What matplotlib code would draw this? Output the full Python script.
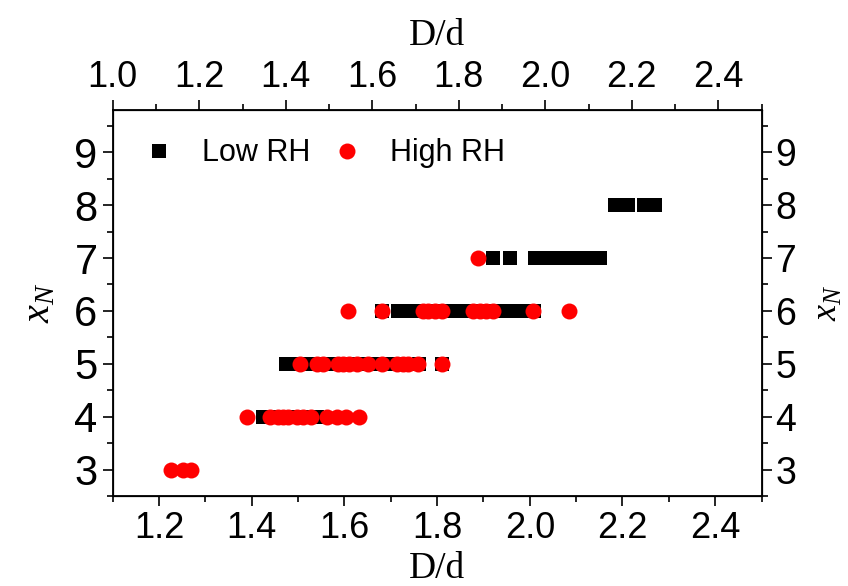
import matplotlib.pyplot as plt
from matplotlib.ticker import MultipleLocator

plt.rcParams['font.family'] = ['Liberation Sans', 'DejaVu Sans']
plt.rcParams['mathtext.fontset'] = 'custom'
plt.rcParams['mathtext.it'] = 'Liberation Serif:italic'
plt.rcParams['mathtext.rm'] = 'Liberation Serif'

# Low RH (black squares)
low_x = [1.425, 1.44, 1.46, 1.48, 1.50, 1.52, 1.54,
         1.473, 1.49, 1.51, 1.53, 1.55, 1.57, 1.59, 1.61, 1.63, 1.65, 1.67, 1.70, 1.72, 1.76, 1.81,
         1.68, 1.715, 1.74, 1.76, 1.78, 1.80, 1.82, 1.84, 1.86, 1.88, 1.90, 1.92, 1.94, 1.96, 1.98, 2.00, 2.01,
         1.921, 1.957, 2.011, 2.03, 2.05, 2.07, 2.09, 2.11, 2.13, 2.151,
         2.183, 2.212, 2.246, 2.270]
low_y = [4] * 7 + [5] * 15 + [6] * 17 + [7] * 10 + [8] * 4

# High RH (red circles)
high_x = [1.225, 1.251, 1.268,
          1.389, 1.439, 1.457, 1.468, 1.479, 1.497, 1.511, 1.527, 1.563, 1.583, 1.603, 1.631,
          1.503, 1.541, 1.553, 1.585, 1.597, 1.610, 1.626, 1.651, 1.680, 1.713, 1.727, 1.738, 1.759, 1.811,
          1.608, 1.682, 1.770, 1.781, 1.795, 1.810, 1.878, 1.892, 1.905, 1.921, 2.007, 2.085,
          1.889]
high_y = [3] * 3 + [4] * 12 + [5] * 14 + [6] * 12 + [7] * 1

fig = plt.figure(figsize=(8.48, 5.86), dpi=100)
ax = fig.add_axes([0.133, 0.1536, 0.765, 0.6587])

ax.plot(low_x, low_y, 's', color='black', markersize=9.6, markeredgewidth=0, label='Low RH')
ax.plot(high_x, high_y, 'o', color='red', markersize=11.5, markeredgewidth=0, label='High RH')

ax.set_xlim(1.1, 2.5)
ax.set_ylim(2.5, 9.8)
ax.xaxis.set_minor_locator(MultipleLocator(0.1))
ax.yaxis.set_major_locator(MultipleLocator(1))
ax.yaxis.set_minor_locator(MultipleLocator(0.5))
ax.set_xticks([1.2, 1.4, 1.6, 1.8, 2.0, 2.2, 2.4])
ax.set_xticklabels(['1.2', '1.4', '1.6', '1.8', '2.0', '2.2', '2.4'])
ax.tick_params(which='major', direction='out', length=7, width=1.2, labelsize=26)
ax.tick_params(which='minor', direction='out', length=4, width=1.2)
ax.tick_params(axis='y', labelsize=30, pad=4)
ax.set_xlabel('D/d', family='Liberation Serif', fontsize=27, labelpad=4)
ax.set_ylabel(r'$x_N$', fontsize=29, labelpad=12)
for s in ax.spines.values():
    s.set_linewidth(1.3)

# top axis
axt = ax.twiny()
axt.set_xlim(1.0, 2.5)
axt.xaxis.set_minor_locator(MultipleLocator(0.1))
axt.set_xticks([1.0, 1.2, 1.4, 1.6, 1.8, 2.0, 2.2, 2.4])
axt.set_xticklabels(['1.0', '1.2', '1.4', '1.6', '1.8', '2.0', '2.2', '2.4'])
axt.tick_params(which='major', direction='out', length=7, width=1.2, labelsize=26)
axt.tick_params(which='minor', direction='out', length=4, width=1.2)
axt.set_xlabel('D/d', family='Liberation Serif', fontsize=27, labelpad=11)

# right axis
axr = ax.twinx()
axr.set_ylim(2.5, 9.8)
axr.yaxis.set_major_locator(MultipleLocator(1))
axr.yaxis.set_minor_locator(MultipleLocator(0.5))
axr.tick_params(which='major', direction='out', length=7, width=1.2, labelsize=27, pad=3)
axr.tick_params(which='minor', direction='out', length=4, width=1.2)
axr.set_ylabel(r'$x_N$', fontsize=26, labelpad=10)

ax.legend(loc='upper left', ncol=2, frameon=False, fontsize=22,
          handlelength=1.0, handletextpad=0.9, columnspacing=0.7,
          borderaxespad=0.4, bbox_to_anchor=(0.01, 0.99))

fig.savefig('out.png', dpi=100)
